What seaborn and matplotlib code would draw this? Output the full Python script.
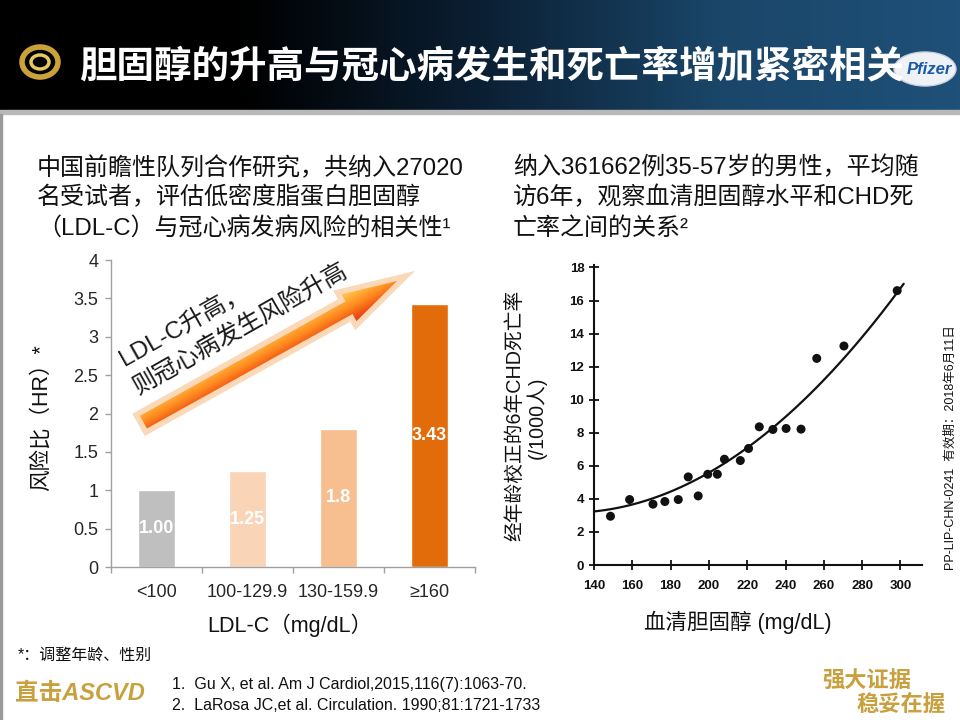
import numpy as np
import pandas as pd
import matplotlib
matplotlib.use("Agg")
from matplotlib import pyplot as plt
from matplotlib import font_manager
from matplotlib.patches import Polygon, Ellipse, Rectangle
from matplotlib.colors import LinearSegmentedColormap
import seaborn as sns

# Left chart: HR of CHD by LDL-C group (Gu X, 2015)
ldl_groups = ["<100", "100-129.9", "130-159.9", "≥160"]
hazard_ratio = [1.00, 1.25, 1.8, 3.43]
hr_labels = ["1.00", "1.25", "1.8", "3.43"]
bar_colors = ["#bfbfbf", "#fad4b6", "#f7be8f", "#e36c0a"]
hr_ticks = [0, 0.5, 1, 1.5, 2, 2.5, 3, 3.5, 4]
hr_tick_labels = ["0", "0.5", "1", "1.5", "2", "2.5", "3", "3.5", "4"]

# Right chart: serum cholesterol vs 6-year CHD death rate (LaRosa, 1990)
cholesterol = [148.6, 158.6, 170.8, 177, 184, 189.2, 194.4, 199.4, 204.4, 208.1,
               216.4, 220.7, 226.3, 233.4, 240.3, 248.1, 256.3, 270.5, 298.3]
chd_death = [2.95, 3.96, 3.68, 3.84, 3.96, 5.33, 4.18, 5.49, 5.49, 6.4,
             6.32, 7.05, 8.36, 8.2, 8.26, 8.22, 12.5, 13.25, 16.6]
# fitted curve as printed in the original figure (read at 20 mg/dL steps)
curve_chol = [140, 160, 180, 200, 220, 240, 260, 280, 300, 301.7]
curve_rate = [3.35, 3.62, 4.32, 5.54, 7.05, 9.0, 11.4, 13.8, 16.65, 17.0]
chol_ticks = [140, 160, 180, 200, 220, 240, 260, 280, 300]
death_ticks = [0, 2, 4, 6, 8, 10, 12, 14, 16, 18]

sns.set_theme(style="white")
CJK = "Noto Sans CJK SC"
plt.rcParams["font.family"] = ["Liberation Sans", CJK, "DejaVu Sans"]
plt.rcParams["axes.unicode_minus"] = False

names = {f.name for f in font_manager.fontManager.ttflist}
NARROW = "Liberation Sans Narrow" if "Liberation Sans Narrow" in names else "Liberation Sans"

W, H = 960, 720


def box(x0, y0, x1, y1):
    # pixel box (origin top-left) -> figure rect
    return [x0 / W, 1 - y1 / H, (x1 - x0) / W, (y1 - y0) / H]


fig = plt.figure(figsize=(9.6, 7.2), dpi=100)

# background layer: header band, frame
bg = fig.add_axes([0, 0, 1, 1], zorder=0)
bg.axis("off")
header_cmap = LinearSegmentedColormap.from_list(
    "hdr", ["#000000", "#000000", "#0b1f33", "#1a4669", "#1f5079"])
bg.imshow(np.linspace(0, 1, 256)[None, :], extent=[0, W, 110, 0],
          cmap=header_cmap, aspect="auto")
bg.add_patch(Rectangle((0, 110), W, 4, color="#b8b8b8"))
bg.add_patch(Rectangle((0, 114), 2, H - 114, color="#9a9a9a"))
bg.set_xlim(0, W)
bg.set_ylim(H, 0)

# ---- left bar chart ----
ax1 = fig.add_axes(box(111, 260, 475, 567), zorder=2)
ax1.set_facecolor("none")
df_hr = pd.DataFrame({"group": ldl_groups, "hr": hazard_ratio})
sns.barplot(data=df_hr, x="group", y="hr", hue="group", palette=bar_colors,
            width=0.4, saturation=1, legend=False, ax=ax1)
for cont, lab in zip(ax1.containers, hr_labels):
    ax1.bar_label(cont, labels=[lab], label_type="center", color="white",
                  fontsize=13, fontweight="bold")
ax1.set_xlim(-0.5, 3.5)
ax1.set_ylim(0, 4)
ax1.set_yticks(hr_ticks, hr_tick_labels)
ax1.set_xticks([-0.5, 0.5, 1.5, 2.5, 3.5], minor=True)
ax1.tick_params(axis="y", length=4, width=1, color="#a0a0a0", labelsize=13,
                labelcolor="#262626", pad=5, left=True)
ax1.tick_params(axis="x", which="major", length=0, labelsize=13,
                labelcolor="#262626", pad=12)
ax1.tick_params(axis="x", which="minor", length=4, width=1, color="#a0a0a0",
                bottom=True)
ax1.set_xlabel("")
ax1.set_ylabel("")
for s in ["top", "right"]:
    ax1.spines[s].set_visible(False)
for s in ["left", "bottom"]:
    ax1.spines[s].set_color("#a0a0a0")
    ax1.spines[s].set_linewidth(1)

# ---- right scatter chart ----
ax2 = fig.add_axes(box(594, 265, 921.5, 565), zorder=2)
ax2.set_facecolor("none")
df_chd = pd.DataFrame({"chol": cholesterol, "death": chd_death})
df_curve = pd.DataFrame({"chol": curve_chol, "rate": curve_rate})
# smooth the read-off curve points with seaborn's polynomial fit
sns.regplot(data=df_curve, x="chol", y="rate", order=2, ci=None, scatter=False,
            line_kws={"color": "#111111", "lw": 1.6}, ax=ax2)
sns.scatterplot(data=df_chd, x="chol", y="death", color="#111111", s=42,
                edgecolor="none", ax=ax2)
ax2.set_xlim(140, 311)
ax2.set_ylim(0, 18.15)
ax2.set_xticks(chol_ticks)
ax2.set_yticks(death_ticks)
ax2.tick_params(direction="inout", length=7, width=1.3, color="#111111",
                labelsize=9.5, labelcolor="#111111", left=True, bottom=True)
ax2.tick_params(axis="x", pad=7)
for lab in ax2.get_xticklabels() + ax2.get_yticklabels():
    lab.set_fontweight("bold")
ax2.set_xlabel("")
ax2.set_ylabel("")
for s in ["top", "right"]:
    ax2.spines[s].set_visible(False)
for s in ["left", "bottom"]:
    ax2.spines[s].set_color("#111111")
    ax2.spines[s].set_linewidth(1.5)

# ---- overlay layer: arrow, texts ----
top = fig.add_axes([0, 0, 1, 1], zorder=5)
top.axis("off")
top.set_facecolor("none")

# rising arrow with gradient fill
tail = np.array([141.0, 423.5])
tip = np.array([406.0, 276.0])
d = tip - tail
L = np.hypot(*d)
u = d / L
n = np.array([u[1], -u[0]])
hw, hhw, hl = 10, 19, 68
pts = [tail + n * hw, tail + n * hw + u * (L - hl), tail + n * hhw + u * (L - hl), tip,
       tail - n * hhw + u * (L - hl), tail - n * hw + u * (L - hl), tail - n * hw]
glow = Polygon(pts, closed=True, facecolor="none", edgecolor="#fbd8b8", lw=4,
               transform=top.transData)
top.add_patch(glow)
arrow = Polygon(pts, closed=True, facecolor="none", edgecolor="none",
                transform=top.transData)
top.add_patch(arrow)
gx, gy = np.meshgrid(np.linspace(120, 420, 300), np.linspace(260, 440, 180))
v = (gx - tail[0]) * n[0] + (gy - tail[1]) * n[1]
arrow_cmap = LinearSegmentedColormap.from_list(
    "arr", ["#e3300c", "#f05514", "#ff8a1f", "#ffb23a", "#ffd27a"])
im = top.imshow(np.clip((v + hhw) / (2 * hhw), 0, 1), extent=[120, 420, 440, 260],
                cmap=arrow_cmap, aspect="auto", origin="upper")
im.set_clip_path(arrow)
top.text(125, 367, "LDL-C升高，", rotation=29.5, rotation_mode="anchor",
         ha="left", va="baseline", fontsize=17.5, color="#1a1a1a")
top.text(139, 395, "则冠心病发生风险升高", rotation=29.5, rotation_mode="anchor",
         ha="left", va="baseline", fontsize=17.5, color="#1a1a1a")

# header logos and title
top.add_patch(Ellipse((40, 62), 36, 30, facecolor="none", edgecolor="#c9a23a", lw=4))
top.add_patch(Ellipse((40, 62), 18, 14, facecolor="none", edgecolor="#e6c766", lw=2.5))
top.add_patch(Ellipse((925, 69), 62, 34, facecolor="#eef2f7", edgecolor="#c8d2de", lw=1))
top.text(929, 70, "Pfizer", color="#1c5aa5", fontsize=12, fontweight="bold",
         style="italic", ha="center", va="center")
top.text(492, 66, "胆固醇的升高与冠心病发生和死亡率增加紧密相关", color="white",
         fontsize=27, fontweight="bold", ha="center", va="center", family=[CJK])

# description texts
left_lines = ["中国前瞻性队列合作研究，共纳入27020", "名受试者，评估低密度脂蛋白胆固醇",
              "（LDL-C）与冠心病发病风险的相关性¹"]
right_lines = ["纳入361662例35-57岁的男性，平均随", "访6年，观察血清胆固醇水平和CHD死",
               "亡率之间的关系²"]
for i, (lt, rt) in enumerate(zip(left_lines, right_lines)):
    top.text(37, 168 + 30 * i, lt, fontsize=17.3, color="#111111", ha="left", va="center")
    top.text(513, 168 + 30 * i, rt, fontsize=17.3, color="#111111", ha="left", va="center")

# axis titles
top.text(41, 418, "风险比（HR）*", rotation=90, fontsize=15.5, color="#111111",
         ha="center", va="center")
top.text(290, 625, "LDL-C（mg/dL）", fontsize=15.5, color="#111111", ha="center", va="center")
top.text(515, 415, "经年龄校正的6年CHD死亡率", rotation=90, fontsize=14.2, color="#111111",
         ha="center", va="center")
top.text(537, 418, "(/1000人)", rotation=90, fontsize=14.2, color="#111111",
         ha="center", va="center")
top.text(738, 622, "血清胆固醇 (mg/dL)", fontsize=15.5, color="#111111", ha="center", va="center")

# side code and footnotes
top.text(951, 448, "PP-LIP-CHN-0241  有效期：2018年6月11日", rotation=90, fontsize=9,
         color="#111111", ha="center", va="center")
top.text(18, 655, "*：调整年龄、性别", fontsize=11.5, color="#111111", ha="left", va="center",
         family=[NARROW, CJK])
top.text(172, 685, "1.  Gu X, et al. Am J Cardiol,2015,116(7):1063-70.", fontsize=11.5,
         color="#111111", ha="left", va="center", family=[NARROW, CJK])
top.text(172, 705, "2.  LaRosa JC,et al. Circulation. 1990;81:1721-1733", fontsize=11.5,
         color="#111111", ha="left", va="center", family=[NARROW, CJK])

# bottom logos
top.text(15, 694, "直击ASCVD", fontsize=17, fontweight="bold", style="italic",
         color="#c9a03e", ha="left", va="center")
top.text(822, 681, "强大证据", fontsize=16, fontweight="bold", style="italic",
         color="#c9a03e", ha="left", va="center", family=[CJK])
top.text(856, 704, "稳妥在握", fontsize=16, fontweight="bold", style="italic",
         color="#c9a03e", ha="left", va="center", family=[CJK])

top.set_xlim(0, W)
top.set_ylim(H, 0)

fig.savefig("out.png", dpi=100)
